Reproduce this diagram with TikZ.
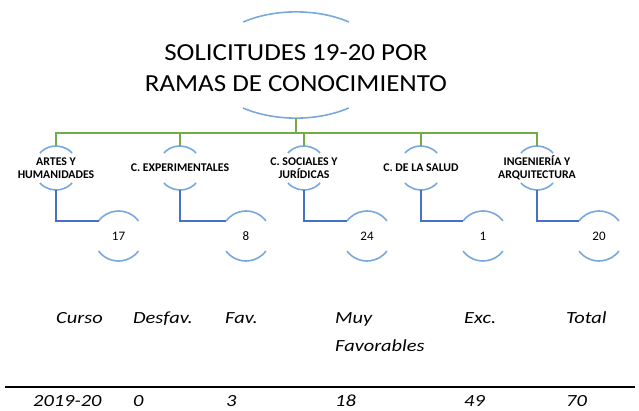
\documentclass[tikz,border=0pt]{standalone}
\usepackage{fontspec}
\setmainfont{Carlito}
\newfontfamily\tabfont[FakeStretch=1.2]{Carlito}
\newfontfamily\titlefont[FakeStretch=1.1]{Carlito}
\usetikzlibrary{shapes.geometric,calc}
\definecolor{gcol}{RGB}{112,173,71}
\definecolor{bcol}{RGB}{68,114,196}
\definecolor{acol}{RGB}{120,168,220}
\begin{document}
\begin{tikzpicture}[x=1pt,y=-1pt,
  gline/.style={draw=gcol,line width=2pt},
  bline/.style={draw=bcol,line width=2pt},
  arcst/.style={draw=acol,line width=1.6pt},
  lvl/.style={circle,draw=none,inner sep=0pt,outer sep=0pt,minimum size=44pt},
  leaf/.style={circle,draw=none,inner sep=0pt,outer sep=0pt,minimum size=50pt},
  lvltxt/.style={font=\fontsize{11.8}{13}\selectfont\bfseries,align=center,inner sep=0pt},
  leaftxt/.style={font=\fontsize{13}{15}\selectfont,inner sep=0pt},
  tab/.style={font=\tabfont\fontsize{17}{28}\selectfont\itshape,anchor=base west,inner sep=0pt}]
\useasboundingbox (0,0) rectangle (639,411);
% title
\node[ellipse,minimum width=180pt,minimum height=106pt,inner sep=0pt,outer sep=0pt] (t) at (296,65) {};
\node[font=\titlefont\fontsize{24.5}{31}\selectfont,align=center,inner sep=0pt] (tt) at (296,68) {SOLICITUDES 19-20 POR\\RAMAS DE CONOCIMIENTO};
\draw[arcst] (t.center) ++(53,-43) arc[start angle=-54,end angle=-126,x radius=90,y radius=53];
\draw[arcst] (t.center) ++(-53,43) arc[start angle=126,end angle=54,x radius=90,y radius=53];
% level nodes
\node[lvl] (a) at (56,168) {};
\node[lvl] (b) at (180,168) {};
\node[lvl] (c) at (304,168) {};
\node[lvl] (d) at (421,168) {};
\node[lvl] (e) at (537,168) {};
\node[lvltxt] (at) at (a) {ARTES Y\\HUMANIDADES};
\node[lvltxt] (bt) at (b) {C. EXPERIMENTALES};
\node[lvltxt] (ct) at (c) {C. SOCIALES Y\\JURÍDICAS};
\node[lvltxt] (dt) at (d) {C. DE LA SALUD};
\node[lvltxt] (et) at (e) {INGENIERÍA Y\\ARQUITECTURA};
% leaf nodes
\node[leaf] (a1) at (118.5,236) {};
\node[leaf] (b1) at (246,236) {};
\node[leaf] (c1) at (367,236) {};
\node[leaf] (d1) at (483,236) {};
\node[leaf] (e1) at (599,236) {};
\node[leaftxt] (a1t) at (a1) {17};
\node[leaftxt] (b1t) at (b1) {8};
\node[leaftxt] (c1t) at (c1) {24};
\node[leaftxt] (d1t) at (d1) {1};
\node[leaftxt] (e1t) at (e1) {20};
\foreach \n in {a,b,c,d,e}{
  \draw[arcst] (\n.43) arc[start angle=-43,end angle=-137,radius=22];
  \draw[arcst] (\n.-137) arc[start angle=137,end angle=43,radius=22];
  \draw[arcst] (\n1.37) arc[start angle=-37,end angle=-143,radius=25];
  \draw[arcst] (\n1.-143) arc[start angle=143,end angle=37,radius=25];
}
% connectors
\coordinate (bus) at (296,133);
\draw[gline] (t.south) -- (t.south |- bus);
\foreach \n in {a,b,c,d,e}{
  \draw[gline] (t.south |- bus) -| (\n.north);
  \draw[bline] (\n.south) |- (\n1.143);
}
% table
\node[tab] (h1) at (56,323) {Curso};
\node[tab] (h2) at (133,323) {Desfav.};
\node[tab] (h3) at (225,323) {Fav.};
\node[tab] (h4) at (335,323) {Muy};
\node[tab] (h4b) at (335,351) {Favorables};
\node[tab] (h5) at (464,323) {Exc.};
\node[tab] (h6) at (566,323) {Total};
\coordinate (rl) at (5,387);
\coordinate (rr) at (635,387);
\draw[line width=1.6pt] (rl) -- (rr);
\node[tab] (r1) at (33,406) {2019-20};
\node[tab] (r2) at (133,406) {0};
\node[tab] (r3) at (226,406) {3};
\node[tab] (r4) at (335,406) {18};
\node[tab] (r5) at (464,406) {49};
\node[tab] (r6) at (566,406) {70};
\end{tikzpicture}
\end{document}
